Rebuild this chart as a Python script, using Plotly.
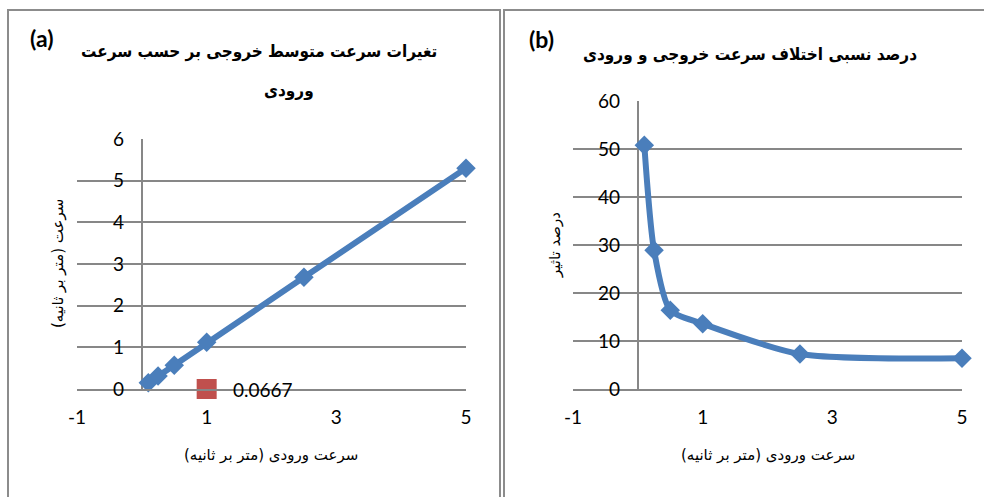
import plotly.graph_objects as go

# ---- data ----
x_in = [0.1, 0.25, 0.5, 1.0, 2.5, 5.0]
v_out = [0.15, 0.31, 0.57, 1.12, 2.68, 5.3]
pct_diff = [50.8, 28.9, 16.4, 13.6, 7.3, 6.4]
extra_x = [1.0]
extra_y = [0.0]
extra_label = ["0.0667"]

xticks = [-1, 1, 3, 5]
yticks_a = [0, 1, 2, 3, 4, 5, 6]
yticks_b = [0, 10, 20, 30, 40, 50, 60]

title_a1 = "تغیرات سرعت متوسط خروجی بر حسب سرعت"
title_a2 = "ورودی"
title_b = "درصد نسبی اختلاف سرعت خروجی و ورودی"
xtitle = "سرعت ورودی (متر بر ثانیه)"
ytitle_a = "سرعت (متر بر ثانیه)"
ytitle_b = "درصد تاثیر"

W, H = 984, 497
BLUE = "#4A7EBB"
RED = "#C0504D"
GRID = "#878787"
TICKFONT = dict(family="Lato, Calibri, sans-serif", size=19, color="#000")
AR = "DejaVu Sans, sans-serif"
ARC = "DejaVu Sans Condensed, DejaVu Sans, sans-serif"

def px(v):
    return v / W

def py(v):
    return (H - v) / H

xr = [-1, 5]
dom_xa = [px(77), px(466)]
dom_xb = [px(573), px(962)]
dom_ya = [py(389), py(139)]
dom_yb = [py(389), py(101)]

def zero_pos(dom):
    return dom[0] + (0 - xr[0]) / (xr[1] - xr[0]) * (dom[1] - dom[0])

fig = go.Figure()
fig.add_trace(go.Scatter(x=x_in, y=v_out, mode="lines+markers",
                         line=dict(color=BLUE, width=6),
                         marker=dict(symbol="diamond", size=15, color=BLUE),
                         xaxis="x", yaxis="y", showlegend=False, cliponaxis=False))
fig.add_trace(go.Scatter(x=extra_x, y=extra_y, mode="markers",
                         marker=dict(symbol="square", size=20, color=RED),
                         xaxis="x", yaxis="y", showlegend=False, cliponaxis=False))
fig.add_trace(go.Scatter(x=x_in, y=pct_diff, mode="lines+markers",
                         line=dict(color=BLUE, width=6, shape="spline", smoothing=0.7),
                         marker=dict(symbol="diamond", size=15, color=BLUE),
                         xaxis="x2", yaxis="y2", showlegend=False, cliponaxis=False))

common_x = dict(range=xr, tickmode="array", tickvals=xticks, ticktext=[str(t) for t in xticks],
                showgrid=False, zeroline=True, zerolinecolor=GRID, zerolinewidth=2,
                showline=True, linecolor=GRID, linewidth=2, automargin=False,
                ticks="outside", ticklen=10, tickcolor="rgba(0,0,0,0)",
                tickfont=TICKFONT, fixedrange=True)

fig.update_layout(
    width=W, height=H, margin=dict(l=0, r=0, t=0, b=0, pad=0, autoexpand=False),
    paper_bgcolor="white", plot_bgcolor="white",
    xaxis=dict(domain=dom_xa, anchor="y", **common_x),
    yaxis=dict(domain=dom_ya, range=[0, 6], tickmode="array", tickvals=yticks_a,
               anchor="free", position=zero_pos(dom_xa), automargin=False,
               showgrid=True, gridcolor=GRID, gridwidth=2, zeroline=False, showline=False,
               ticks="outside", ticklen=14, tickcolor="rgba(0,0,0,0)",
               tickfont=TICKFONT, fixedrange=True),
    xaxis2=dict(domain=dom_xb, anchor="y2", **common_x),
    yaxis2=dict(domain=dom_yb, range=[0, 60], tickmode="array", tickvals=yticks_b,
                anchor="free", position=zero_pos(dom_xb), automargin=False,
                showgrid=True, gridcolor=GRID, gridwidth=2, zeroline=False, showline=False,
                ticks="outside", ticklen=14, tickcolor="rgba(0,0,0,0)",
                tickfont=TICKFONT, fixedrange=True),
)

# panel borders
fig.add_shape(type="rect", xref="paper", yref="paper", x0=px(8), x1=px(500), y0=-0.1, y1=py(10),
              line=dict(color="#8C8C8C", width=2), layer="below")
fig.add_shape(type="rect", xref="paper", yref="paper", x0=px(504), x1=1.1, y0=-0.1, y1=py(10),
              line=dict(color="#8C8C8C", width=2), layer="below")

def note(x, y, text, font, **kw):
    d = dict(x=x, y=y, xref="paper", yref="paper", text=text, showarrow=False,
             xanchor="center", yanchor="middle", font=font)
    d.update(kw)
    return d

TF = dict(family=ARC, size=17, color="#000")
AF = dict(family=AR, size=15, color="#000")
ann = []
ann.append(dict(x=extra_x[0], y=extra_y[0], xref="x", yref="y", text=extra_label[0],
                showarrow=False, xanchor="left", yanchor="middle", xshift=24, font=TICKFONT))
ann.append(note(px(41), py(38), "<b>(a)</b>", dict(family="Lato, sans-serif", size=23, color="#000")))
ann.append(note(px(541), py(39), "<b>(b)</b>", dict(family="Lato, sans-serif", size=23, color="#000")))
ann.append(note(px(259), py(51), "<b>" + title_a1 + "</b>", TF))
ann.append(note(px(289), py(91), "<b>" + title_a2 + "</b>", TF))
ann.append(note(px(750), py(54), "<b>" + title_b + "</b>", TF))
ann.append(note((dom_xa[0] + dom_xa[1]) / 2, py(455), xtitle, AF))
ann.append(note((dom_xb[0] + dom_xb[1]) / 2, py(455), xtitle, AF))
ann.append(note(px(58), (dom_ya[0] + dom_ya[1]) / 2, ytitle_a, AF, textangle=-90))
ann.append(note(px(555), (dom_yb[0] + dom_yb[1]) / 2, ytitle_b, AF, textangle=-90))
fig.update_layout(annotations=ann)

fig.write_html("out.html", config={"displayModeBar": False},
               post_script="document.body.style.margin='0';document.body.style.overflow='hidden';")
